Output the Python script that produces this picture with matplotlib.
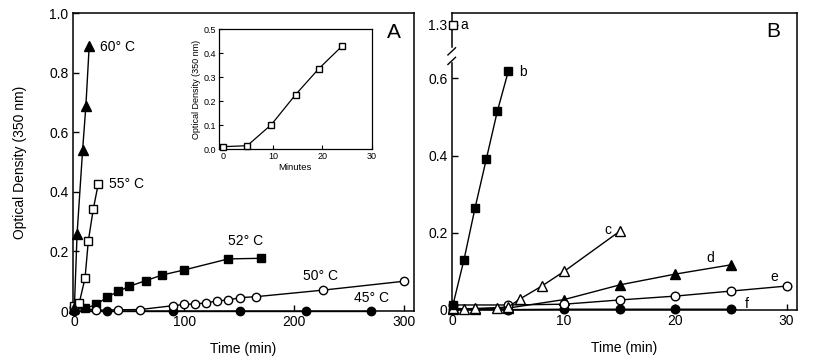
import numpy as np
import matplotlib
matplotlib.use("Agg")
import matplotlib.pyplot as plt
from matplotlib.lines import Line2D

plt.rcParams['font.family'] = ['Liberation Sans', 'DejaVu Sans']
plt.rcParams['axes.linewidth'] = 1.0

# ---------------- Panel A data ----------------
t60 = [0, 2.5, 7.5, 10.5, 13.5]
od60 = [0.01, 0.26, 0.54, 0.69, 0.89]
t55 = [0, 4.5, 9.7, 12.7, 17.2, 21.8]
od55 = [0.016, 0.028, 0.11, 0.235, 0.342, 0.428]
t52 = [0, 10, 20, 30, 40, 50, 65, 80, 100, 140, 170]
od52 = [0.005, 0.009, 0.022, 0.047, 0.066, 0.083, 0.102, 0.121, 0.138, 0.175, 0.177]
t50 = [0, 20, 40, 60, 90, 100, 110, 120, 130, 140, 151, 165, 226, 300]
od50 = [0.013, 0.003, 0.004, 0.005, 0.018, 0.022, 0.024, 0.027, 0.034, 0.037, 0.045, 0.048, 0.07, 0.1]
t45 = [0, 30, 90, 151, 211, 270]
od45 = [0.0, 0.0, 0.0, 0.0, 0.0, 0.0]

# inset
t_in = [0, 4.8, 9.7, 14.6, 19.3, 24]
od_in = [0.011, 0.015, 0.103, 0.228, 0.336, 0.43]

# ---------------- Panel B data ----------------
ta = [0]
oda = [1.3]
tb = [0, 1, 2, 3, 4, 5]
odb = [0.012, 0.13, 0.265, 0.39, 0.515, 0.62]
tc = [0, 1, 2, 4, 5, 6, 8, 10, 15]
odc = [0.005, 0.003, 0.004, 0.006, 0.008, 0.028, 0.062, 0.1, 0.204]
td = [0, 2, 5, 10, 15, 20, 25]
odd = [0.003, 0.003, 0.005, 0.027, 0.065, 0.093, 0.117]
te = [0, 5, 10, 15, 20, 25, 30]
ode = [0.013, 0.013, 0.015, 0.026, 0.036, 0.049, 0.062]
tf = [0, 5, 10, 15, 20, 25]
odf = [0.001, 0.001, 0.002, 0.002, 0.002, 0.002]

fig = plt.figure(figsize=(8.16, 3.61), dpi=100)

def style(ax, fs=10, length=4):
    ax.tick_params(direction='in', length=length, width=1, labelsize=fs,
                   top=False, right=False, pad=3)
    for s in ax.spines.values():
        s.set_linewidth(1.1)

def series(ax, x, y, marker, filled, ms, lw=1.0):
    ax.plot(x, y, color='black', lw=lw, marker=marker, ms=ms,
            mfc='black' if filled else 'white', mec='black', mew=1.0,
            clip_on=False, zorder=3)

# ---------------- Panel A ----------------
axA = fig.add_axes([0.0891, 0.1385, 0.4183, 0.8247])
series(axA, t45, od45, 'o', True, 6.0)
series(axA, t52, od52, 's', True, 6.0)
series(axA, t50, od50, 'o', False, 6.0)
series(axA, t55, od55, 's', False, 5.8)
series(axA, t60, od60, '^', True, 7.0)
axA.set_xlim(-1.5, 309)
axA.set_ylim(0, 1.0)
axA.set_xticks([0, 100, 200, 300])
axA.set_yticks([0, 0.2, 0.4, 0.6, 0.8, 1.0])
axA.set_yticklabels(['0', '0.2', '0.4', '0.6', '0.8', '1.0'])
style(axA)
axA.set_xlabel('Time (min)', fontsize=10, labelpad=9)
axA.set_ylabel('Optical Density (350 nm)', fontsize=10, labelpad=16)
axA.text(23.6, 0.886, '60° C', fontsize=10, ha='left', va='center')
axA.text(31.1, 0.426, '55° C', fontsize=10, ha='left', va='center')
axA.text(139.6, 0.235, '52° C', fontsize=10, ha='left', va='center')
axA.text(207.6, 0.117, '50° C', fontsize=10, ha='left', va='center')
axA.text(254.7, 0.044, '45° C', fontsize=10, ha='left', va='center')
axA.text(0.941, 0.934, 'A', fontsize=15, ha='center', va='center', transform=axA.transAxes)

# inset
axI = fig.add_axes([0.2684, 0.5864, 0.1871, 0.3324])
series(axI, t_in, od_in, 's', False, 4.8, lw=0.9)
axI.set_xlim(-0.9, 30)
axI.set_ylim(0, 0.5)
axI.set_xticks([0, 10, 20, 30])
axI.set_yticks([0, 0.1, 0.2, 0.3, 0.4, 0.5])
axI.set_yticklabels(['0.0', '0.1', '0.2', '0.3', '0.4', '0.5'])
axI.tick_params(direction='in', length=3, width=0.8, labelsize=6.5, pad=2)
for s in axI.spines.values():
    s.set_linewidth(0.9)
axI.set_xlabel('Minutes', fontsize=6.8, labelpad=1.5)
axI.set_ylabel('Optical Density (350 nm)', fontsize=6.5, labelpad=2)

# ---------------- Panel B ----------------
bk_lo, bk_hi, gap_top = 0.66, 1.25, 0.6883
def fwd(y):
    y = np.asarray(y, dtype=float)
    return np.interp(y, [-10, bk_lo, bk_hi, 10], [-10, bk_lo, gap_top, 10 - (bk_hi - gap_top)])
def inv(v):
    v = np.asarray(v, dtype=float)
    return np.interp(v, [-10, bk_lo, gap_top, 10 - (bk_hi - gap_top)], [-10, bk_lo, bk_hi, 10])

axB = fig.add_axes([0.5536, 0.1413, 0.4227, 0.8235])
axB.set_yscale('function', functions=(fwd, inv))
series(axB, tf, odf, 'o', True, 6.2)
series(axB, td, odd, '^', True, 7.2)
series(axB, te, ode, 'o', False, 6.2)
series(axB, tc, odc, '^', False, 7.2)
series(axB, tb, odb, 's', True, 6.2)
series(axB, ta, oda, 's', False, 5.6)
axB.set_xlim(-0.1, 30.9)
axB.set_ylim(0, 1.3317)
axB.set_xticks([0, 10, 20, 30])
axB.set_yticks([0, 0.2, 0.4, 0.6, 1.3])
axB.set_yticklabels(['0', '0.2', '0.4', '0.6', '1.3'])
axB.yaxis.set_minor_locator(matplotlib.ticker.NullLocator())
style(axB)
axB.set_xlabel('Time (min)', fontsize=10, labelpad=9)
# broken left spine
axB.spines['left'].set_visible(False)
lo_f, hi_f = 0.831, 0.885
axB.add_line(Line2D([0, 0], [0, lo_f], transform=axB.transAxes, color='black', lw=1.1, clip_on=False))
axB.add_line(Line2D([0, 0], [hi_f, 1], transform=axB.transAxes, color='black', lw=1.1, clip_on=False))
for yc in (0.87, 0.838):
    axB.add_line(Line2D([-0.011, 0.011], [yc - 0.012, yc + 0.012], transform=axB.transAxes,
                        color='black', lw=1.0, clip_on=False))
axB.text(1.05, 1.3, 'a', fontsize=10, ha='center', va='center')
axB.text(5.97, 0.617, 'b', fontsize=10, ha='left', va='center')
axB.text(13.9, 0.207, 'c', fontsize=10, ha='center', va='center')
axB.text(23.1, 0.134, 'd', fontsize=10, ha='center', va='center')
axB.text(28.9, 0.086, 'e', fontsize=10, ha='center', va='center')
axB.text(26.46, 0.016, 'f', fontsize=10, ha='center', va='center')
axB.text(0.932, 0.936, 'B', fontsize=15, ha='center', va='center', transform=axB.transAxes)

fig.savefig('out.png', dpi=100, facecolor='white')
